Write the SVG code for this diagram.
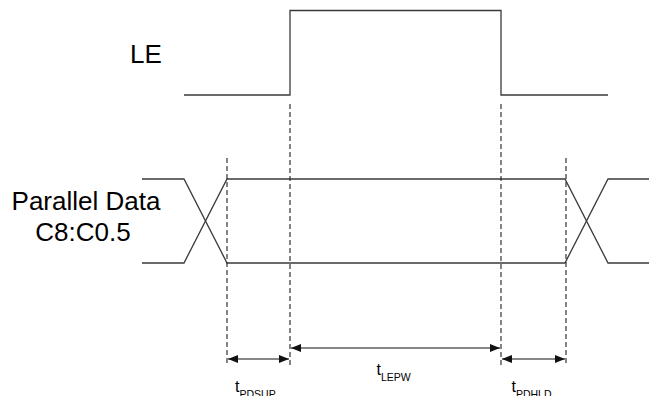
<svg xmlns="http://www.w3.org/2000/svg" width="649" height="396" viewBox="0 0 649 396">
<style>
.sig{fill:none;stroke:#3a3a3a;stroke-width:1.3}
.dash{fill:none;stroke:#222;stroke-width:1.1;stroke-dasharray:5,3}
.dim{fill:none;stroke:#111;stroke-width:1.2}
.lbl{font-family:"Liberation Sans",Arial,sans-serif;font-size:26px;fill:#000}
.t{font-family:"Liberation Sans",Arial,sans-serif;font-size:16px;fill:#000}
.sub{font-size:10.5px}
</style>
<defs>
<marker id="ah" viewBox="0 0 10 8" refX="10" refY="4" markerWidth="10" markerHeight="8" markerUnits="userSpaceOnUse" orient="auto-start-reverse">
<path d="M0,0 L10,4 L0,8 Z" fill="#111"/>
</marker>
</defs>
<rect width="649" height="396" fill="#fff"/>
<g id="LE">
<text class="lbl" x="130" y="63">LE</text>
<path class="sig" d="M184,95 H290 V10.5 H501 V95 H608"/>
</g>
<g id="data">
<text class="lbl" x="86" y="210" text-anchor="middle">Parallel Data</text>
<text class="lbl" x="83" y="241" text-anchor="middle">C8:C0.5</text>
<path class="sig" d="M142,179 H184 L227,263 H565 L608,179 H649"/>
<path class="sig" d="M142,263 H184 L227,179 H565 L608,263 H649"/>
</g>
<g id="connectors">
<line class="dash" x1="227" y1="158" x2="227" y2="366"/>
<line class="dash" x1="290" y1="104" x2="290" y2="366"/>
<line class="dash" x1="501" y1="104" x2="501" y2="366"/>
<line class="dash" x1="566" y1="158" x2="566" y2="366"/>
<line class="dim" x1="228" y1="359" x2="289" y2="359" marker-start="url(#ah)" marker-end="url(#ah)"/>
<line class="dim" x1="291" y1="348" x2="500" y2="348" marker-start="url(#ah)" marker-end="url(#ah)"/>
<line class="dim" x1="502" y1="359" x2="565" y2="359" marker-start="url(#ah)" marker-end="url(#ah)"/>
</g>
<g id="labels">
<text class="t" x="235" y="392">t<tspan class="sub" dy="6">PDSUP</tspan></text>
<text class="t" x="376.5" y="375">t<tspan class="sub" dy="6">LEPW</tspan></text>
<text class="t" x="511.5" y="392">t<tspan class="sub" dy="6">PDHLD</tspan></text>
</g>
</svg>
